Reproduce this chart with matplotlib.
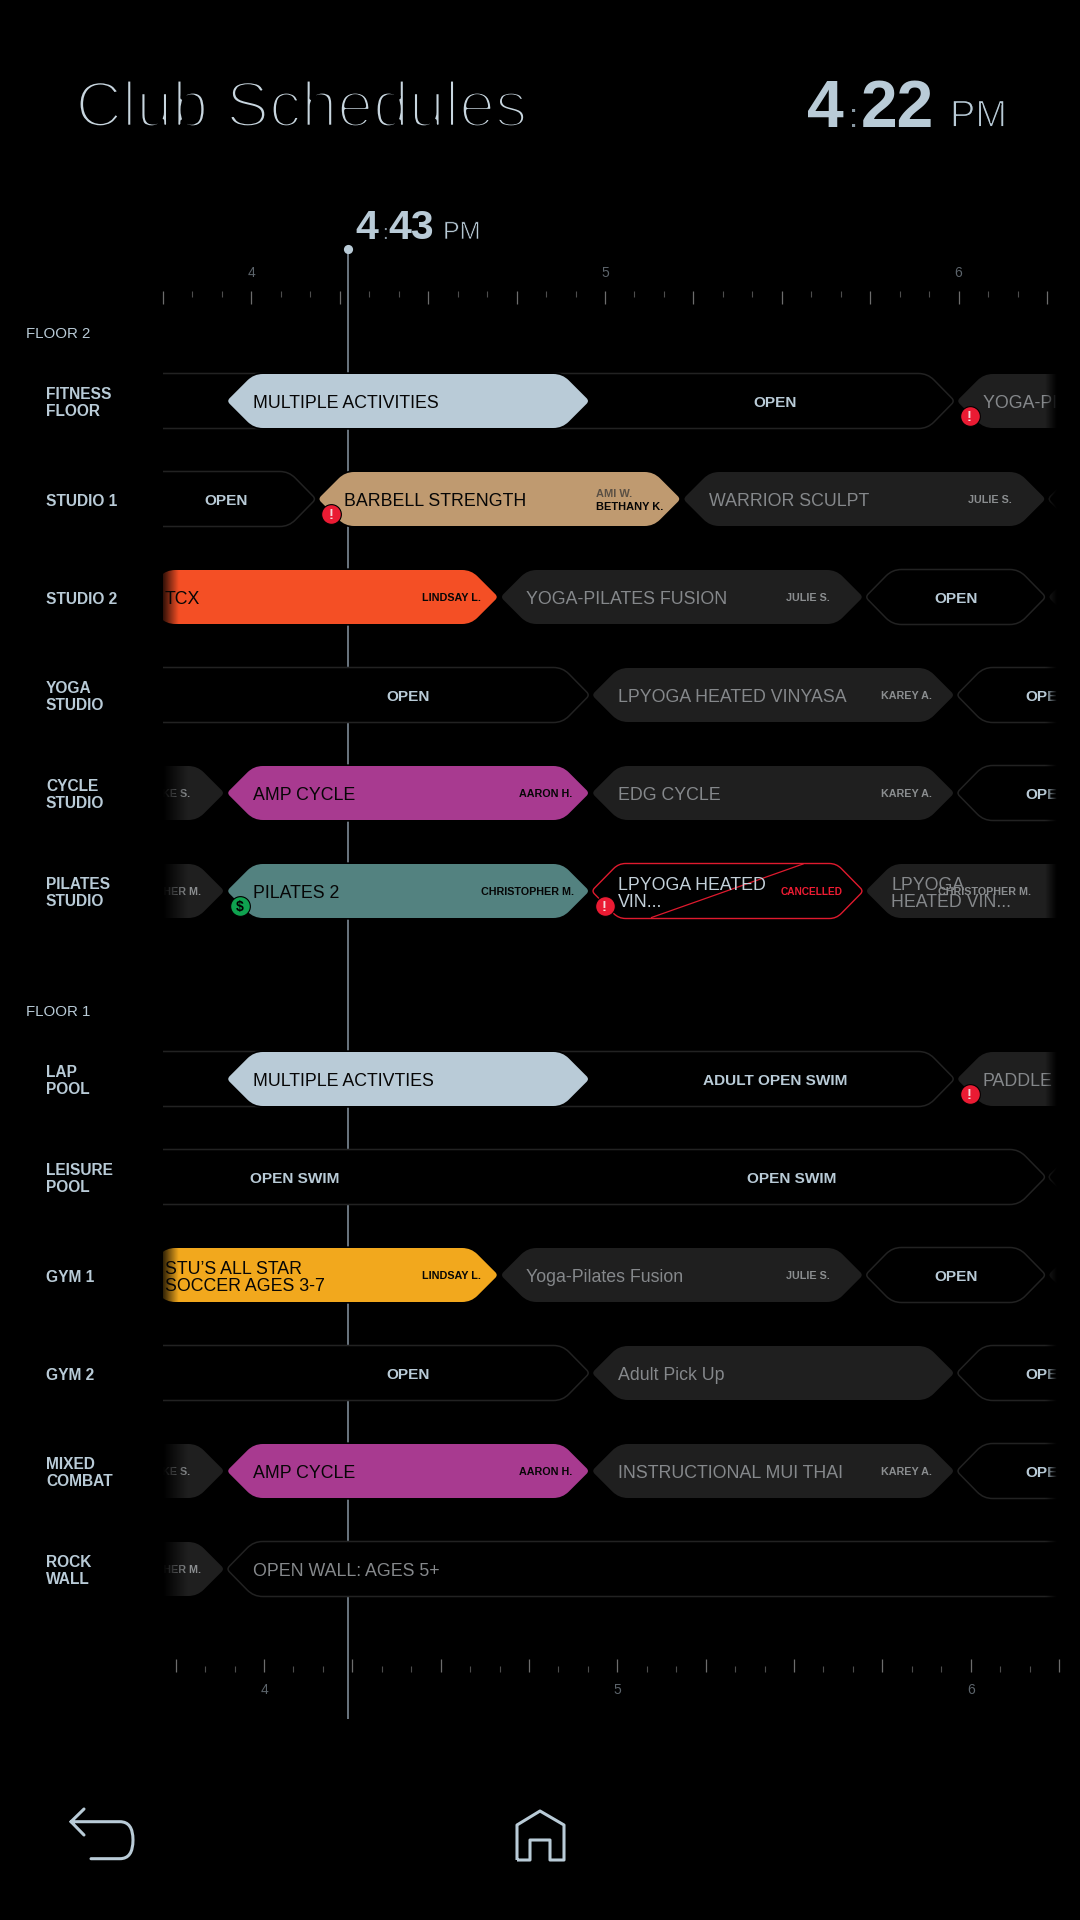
import numpy as np
import matplotlib
matplotlib.use("Agg")
import matplotlib.pyplot as plt
from matplotlib.path import Path
from matplotlib.patches import PathPatch
from matplotlib import patheffects as pe

# ---------- data ----------
ROW_LABELS = ["FITNESS\nFLOOR", "STUDIO 1", "STUDIO 2", "YOGA\nSTUDIO", "CYCLE\nSTUDIO", "PILATES\nSTUDIO",
              "LAP\nPOOL", "LEISURE\nPOOL", "GYM 1", "GYM 2", "MIXED\nCOMBAT", "ROCK\nWALL"]
FLOOR_LABELS = ["FLOOR 2", "FLOOR 1"]
MAJOR_HOURS = [3.75, 4, 4.25, 4.5, 4.75, 5, 5.25, 5.5, 5.75, 6, 6.25]
HOUR_TICK_LABELS = ["", "4", "", "", "", "5", "", "", "", "6", ""]
NOW_HOUR = 4.335
TITLE = "Club Schedules"

BLOCK_ROW = [0, 0, 0,
             1, 1, 1, 1,
             2, 2, 2, 2,
             3, 3, 3,
             4, 4, 4, 4,
             5, 5, 5, 5,
             6, 6, 6,
             7, 7,
             8, 8, 8, 8,
             9, 9, 9,
             10, 10, 10, 10,
             11, 11]
BLOCK_START = [3.0, 4.0, 6.0,
               3.0, 4.25, 5.25, 6.25,
               3.76, 4.75, 5.75, 6.25,
               3.0, 5.0, 6.0,
               3.0, 4.0, 5.0, 6.0,
               3.0, 4.0, 5.0, 5.75,
               3.0, 4.0, 6.0,
               3.0, 6.25,
               3.76, 4.75, 5.75, 6.25,
               3.0, 5.0, 6.0,
               3.0, 4.0, 5.0, 6.0,
               3.0, 4.0]
BLOCK_END = [6.0, 5.0, 7.0,
             4.25, 5.25, 6.25, 7.25,
             4.75, 5.75, 6.25, 7.25,
             5.0, 6.0, 6.5,
             4.0, 5.0, 6.0, 6.5,
             4.0, 5.0, 5.75, 6.75,
             6.0, 5.0, 7.0,
             6.25, 7.25,
             4.75, 5.75, 6.25, 7.25,
             5.0, 6.0, 6.5,
             4.0, 5.0, 6.0, 6.5,
             4.0, 7.5]
BLOCK_KIND = ["open", "blue", "grey",
              "open", "tan", "grey", "open",
              "orange", "grey", "open", "grey",
              "open", "grey", "open",
              "grey", "purple", "grey", "open",
              "grey", "teal", "cancel", "grey",
              "open", "blue", "grey",
              "open", "open",
              "yellow", "grey", "open", "grey",
              "open", "grey", "open",
              "grey", "purple", "grey", "open",
              "grey", "open"]
BLOCK_TITLE = ["", "MULTIPLE ACTIVITIES", "YOGA-PILATES FUSION",
               "", "BARBELL STRENGTH", "WARRIOR SCULPT", "",
               "TCX", "YOGA-PILATES FUSION", "", "",
               "", "LPYOGA HEATED VINYASA", "",
               "", "AMP CYCLE", "EDG CYCLE", "",
               "", "PILATES 2", "LPYOGA HEATED\nVIN...", "LPYOGA\nHEATED VIN...",
               "", "MULTIPLE ACTIVTIES", "PADDLE",
               "", "",
               "STU\u2019S ALL STAR\nSOCCER AGES 3-7", "Yoga-Pilates Fusion", "", "",
               "", "Adult Pick Up", "",
               "", "AMP CYCLE", "INSTRUCTIONAL MUI THAI", "",
               "", "OPEN WALL: AGES 5+"]
BLOCK_PERSON = ["", "", "",
                "", "", "JULIE S.", "",
                "LINDSAY L.", "JULIE S.", "", "",
                "", "KAREY A.", "",
                "MIKE S.", "AARON H.", "KAREY A.", "",
                "CHRISTOPHER M.", "CHRISTOPHER M.", "CANCELLED", "CHRISTOPHER M.",
                "", "", "",
                "", "",
                "LINDSAY L.", "JULIE S.", "", "",
                "", "", "",
                "MIKE S.", "AARON H.", "KAREY A.", "",
                "CHRISTOPHER M.", ""]
OPEN_LABEL_ROW = [0, 1, 2, 3, 3, 4, 6, 7, 7, 8, 9, 9, 10]
OPEN_LABEL_HOUR = [5.505, 4.0, 6.0, 4.5, 6.25, 6.25, 5.505, 4.19, 5.55, 6.0, 4.5, 6.25, 6.25]
OPEN_LABEL_TEXT = ["OPEN", "OPEN", "OPEN", "OPEN", "OPEN", "OPEN", "ADULT OPEN SWIM", "OPEN SWIM",
                   "OPEN SWIM", "OPEN", "OPEN", "OPEN", "OPEN"]
ALERT_ROW = [0, 1, 5, 6]
ALERT_HOUR = [6.0, 4.25, 5.0, 6.0]
MONEY_ROW = [5]
MONEY_HOUR = [4.0]
CANCEL_ROW = 5
CANCEL_STRIKE_HOURS = [5.167, 5.582]

# ---------- style / layout ----------
FONT = "Liberation Sans"
plt.rcParams["font.family"] = FONT
INK = "#b9cbd7"
FILLS = {"blue": "#b9cbd7", "tan": "#bf9a70", "orange": "#f44f25", "purple": "#a83a90",
         "teal": "#538280", "yellow": "#f2a81d", "grey": "#1f1f1f"}
ROW_Y = [401, 499, 597, 695, 793, 891, 1079, 1177, 1275, 1373, 1471, 1569]
FLOOR_Y = [333, 1011]
PERSON_PAD = {"JULIE S.": 35, "KAREY A.": 24, "LINDSAY L.": 18, "AARON H.": 18, "MIKE S.": 35,
              "CANCELLED": 22}
H = 54
TIP = 27
W, HT = 1080, 1920
PX4, PPH = 225.6, 365.0
CLIP_L, CLIP_R = 163, 1057


def px2h(x):
    return 4 + (x - PX4) / PPH


def h2px(h):
    return PX4 + (h - 4) * PPH


fig = plt.figure(figsize=(W / 100, HT / 100), dpi=100, facecolor="black")

# timeline axes: x in hours, y in screen rows
ax = fig.add_axes([CLIP_L / W, 0, (CLIP_R - CLIP_L) / W, 1], zorder=2)
ax.set_xlim(px2h(CLIP_L), px2h(CLIP_R))
ax.set_ylim(HT, 0)
ax.axis("off")

# chrome axes in screen pixels
ui = fig.add_axes([0, 0, 1, 1], zorder=3)
ui.set_xlim(0, W)
ui.set_ylim(HT, 0)
ui.axis("off")
ui.patch.set_alpha(0)


def hexagon(x0, x1, yc, h=H, tip=TIP, r_tip=4.0, r_sh=9.0):
    pts = [(x0, yc), (x0 + tip, yc - h / 2), (x1 - tip, yc - h / 2),
           (x1, yc), (x1 - tip, yc + h / 2), (x0 + tip, yc + h / 2)]
    rad = [r_tip, r_sh, r_sh, r_tip, r_sh, r_sh]
    verts, codes = [], []
    n = len(pts)
    for i in range(n):
        v = np.array(pts[i], float)
        p = np.array(pts[i - 1], float)
        q = np.array(pts[(i + 1) % n], float)
        a = v + (p - v) / np.linalg.norm(p - v) * rad[i]
        b = v + (q - v) / np.linalg.norm(q - v) * rad[i]
        verts += [tuple(a), tuple(v), tuple(b)]
        codes += [Path.MOVETO if i == 0 else Path.LINETO, Path.CURVE3, Path.CURVE3]
    verts.append(verts[0])
    codes.append(Path.CLOSEPOLY)
    vv = np.array(verts)
    vv[:, 0] = px2h(vv[:, 0])
    return Path(vv, codes)


def ctext(a, x, yc, s, px, color, weight="normal", ha="left", z=20, clip=True):
    """text whose capitals are centred on yc"""
    return a.text(x, yc + 0.358 * px, s, fontsize=px * 0.72, color=color, fontweight=weight,
                  ha=ha, va="baseline", zorder=z, clip_on=clip, family=FONT)


def fade(x0, x1, y0, y1, a0, a1, z):
    arr = np.zeros((1, 32, 4))
    arr[..., 3] = np.linspace(a0, a1, 32)
    ax.imshow(arr, extent=[px2h(x0), px2h(x1), y1, y0], aspect="auto", zorder=z, interpolation="bilinear")


# current-time line
ax.plot([NOW_HOUR, NOW_HOUR], [249, 1719], color="#67727c", lw=1.45, zorder=1, solid_capstyle="butt")
ax.plot([NOW_HOUR], [249], "o", ms=6.6, color=INK, mew=0, zorder=1.5, clip_on=False)

# blocks
order = sorted(range(len(BLOCK_ROW)), key=lambda i: BLOCK_KIND[i] != "open")
for z, i in enumerate(order):
    yc = ROW_Y[BLOCK_ROW[i]]
    kind = BLOCK_KIND[i]
    x0, x1 = h2px(BLOCK_START[i]), h2px(BLOCK_END[i])
    zb = 2 + z * 0.1
    if kind == "open":
        path = hexagon(x0 + 1, x1 - 1, yc, h=H + 1)
        ax.add_patch(PathPatch(path, fc="black", ec="#222222", lw=1.1, zorder=zb))
    elif kind == "cancel":
        path = hexagon(x0 + 1, x1 - 1, yc, h=H + 1, r_sh=7)
        ax.add_patch(PathPatch(path, fc="black", ec="black", lw=2.6, zorder=zb))
        ax.add_patch(PathPatch(path, fc="black", ec="#df1a2e", lw=1.0, zorder=zb + 0.01))
    else:
        path = hexagon(x0 + 1.2, x1 - 1.2, yc)
        ax.add_patch(PathPatch(path, fc="black", ec="black", lw=2.4, zorder=zb))
        ax.add_patch(PathPatch(path, fc=FILLS[kind], ec="none", zorder=zb + 0.01))

    # left-edge fade of blocks running in from the left
    if BLOCK_START[i] < 4 and kind not in ("open",) and x0 < CLIP_L + 80:
        if kind == "grey":
            fade(CLIP_L, CLIP_L + 25, yc - H / 2 - 2, yc + H / 2 + 2, 1.0, 0.0, 30)
        else:
            fade(CLIP_L, CLIP_L + 16, yc - H / 2 - 2, yc + H / 2 + 2, 0.8, 0.0, zb + 0.02)

    # texts
    if kind == "grey" or kind == "open":
        tcol, pcol = "#85888b", "#8b8e90"
    elif kind == "cancel":
        tcol, pcol = "#c3d0d9", "#ee1c33"
    else:
        tcol, pcol = "#060606", "#060606"
    title = BLOCK_TITLE[i]
    if title:
        tx = max(x0 + 27, 165)
        lines = title.split("\n")
        off = [0] if len(lines) == 1 else [-8.5, 8.5]
        for ln, d in zip(lines, off):
            ctext(ax, px2h(tx), yc + d + 1, ln, 17.8, tcol)
    person = BLOCK_PERSON[i]
    if person:
        pad = PERSON_PAD.get(person, 17)
        if person == "CHRISTOPHER M.":
            pad = 25 if kind == "grey" else 17
            if BLOCK_START[i] > 5:
                pad = 198
        size = 10.1 if person == "CANCELLED" else 10.8
        ctext(ax, px2h(x1 - pad), yc, person, size, pcol, weight="bold", ha="right")

# second (split) credit on the tan block
tan_i = BLOCK_KIND.index("tan")
tan_y = ROW_Y[BLOCK_ROW[tan_i]]
ctext(ax, px2h(596), tan_y - 6, "AMI W.", 11, "#5b5044", weight="bold")
ctext(ax, px2h(596), tan_y + 7, "BETHANY K.", 11, "#060606", weight="bold")

# strike through cancelled class
ax.plot(CANCEL_STRIKE_HOURS, [ROW_Y[CANCEL_ROW] + 26.5, ROW_Y[CANCEL_ROW] - 27], color="#df1a2e", lw=0.9, zorder=19)

# labels inside open blocks
for r, h, s in zip(OPEN_LABEL_ROW, OPEN_LABEL_HOUR, OPEN_LABEL_TEXT):
    ctext(ax, h, ROW_Y[r], s, 15.4, INK, weight="bold", ha="center")

# right-hand fade across all rows
fade(CLIP_R - 12, CLIP_R, 360, 1610, 0.0, 1.0, 40)

# status badges
for r, h in zip(ALERT_ROW, ALERT_HOUR):
    hx = px2h(h2px(h) + 14)
    y = ROW_Y[r] + 15
    ax.plot([hx], [y], "o", ms=14.2, color="#ea1b33", mec="black", mew=0.8, zorder=50)
    ctext(ax, hx, y, "!", 15, "#f4d9dc", weight="bold", ha="center", z=51)
for r, h in zip(MONEY_ROW, MONEY_HOUR):
    hx = px2h(h2px(h) + 14)
    y = ROW_Y[r] + 15
    ax.plot([hx], [y], "o", ms=14.2, color="#0fa24f", mec="black", mew=0.8, zorder=50)
    ctext(ax, hx, y, "$", 14, "black", weight="bold", ha="center", z=51)

# hour rulers
MINOR = [m / 12 for m in range(45, 76) if m % 3 != 0]


def ruler(top_px, bot_px, left_px, right_px, hour4_px, top):
    r = fig.add_axes([left_px / W, 1 - bot_px / HT, (right_px - left_px) / W, (bot_px - top_px) / HT], zorder=1)
    r.set_xlim(4 + (left_px - hour4_px) / PPH, 4 + (right_px - hour4_px) / PPH)
    r.set_yticks([])
    r.patch.set_alpha(0)
    for s in r.spines.values():
        s.set_visible(False)
    r.set_xticks(MAJOR_HOURS)
    r.set_xticklabels(HOUR_TICK_LABELS)
    r.set_xticks(MINOR, minor=True)
    if top:
        r.xaxis.tick_top()
    r.tick_params(which="major", direction="in", length=9.4, width=0.9, color="#6d6d6d", labelcolor="#5c646b",
                  labelsize=10, pad=8)
    r.tick_params(which="minor", direction="in", length=4.4, width=0.8, color="#4d4d4d")
    return r


ruler(291, 305, 163, 1052, PX4, True)
ruler(1659, 1672, 174, 1059, 267, False)

# row and floor labels
for lab, y in zip(ROW_LABELS, ROW_Y):
    lines = lab.split("\n")
    off = [1] if len(lines) == 1 else [-8, 9]
    for ln, d in zip(lines, off):
        ctext(ui, 46, y + d, ln, 15.5, INK, weight="bold", clip=False)
for lab, y in zip(FLOOR_LABELS, FLOOR_Y):
    ctext(ui, 26, y, lab, 15, INK, clip=False)


# header
def thin(t, w):
    t.set_path_effects([pe.Stroke(linewidth=w, foreground="black")])
    return t


thin(ui.text(75.5, 126.5, TITLE, fontsize=64.5 * 0.72, color="#c8d6df", ha="left", va="baseline"), 2.6)


def clock(x, base, hour, mins, pm_x, colon_x, min_x, big, small, w):
    ui.text(x, base, hour, fontsize=big * 0.72, color=INK, fontweight="bold", va="baseline")
    ui.text(colon_x, base, ":", fontsize=big * 0.5 * 0.72, color="#8796a1", va="baseline", ha="center")
    ui.text(min_x, base, mins, fontsize=big * 0.72, color=INK, fontweight="bold", va="baseline")
    thin(ui.text(pm_x, base, "PM", fontsize=small * 0.72, color=INK, va="baseline"), w)


clock(807, 126.7, "4", "22", 950, 854, 861, 66, 38, 0.9)
clock(355, 239, "4", "43", 443, 385, 388.5, 41, 25, 0.45)

# footer icons
ICON = "#b9cbd7"
back = Path([(84, 1809), (71, 1821.7), (84, 1835), (71, 1821.7), (120, 1821.7), (133, 1821.7), (133, 1840),
             (133, 1858.7), (120, 1858.7), (91, 1858.7)],
            [Path.MOVETO, Path.LINETO, Path.LINETO, Path.MOVETO, Path.LINETO, Path.CURVE3, Path.CURVE3,
             Path.CURVE3, Path.CURVE3, Path.LINETO])
ui.add_patch(PathPatch(back, fc="none", ec=ICON, lw=2.2, capstyle="round", joinstyle="round"))
home = Path([(517, 1860), (517, 1825), (540, 1811), (564, 1825), (564, 1860), (550, 1860), (550, 1840),
             (530, 1840), (530, 1860), (517, 1860)],
            [Path.MOVETO] + [Path.LINETO] * 9)
ui.add_patch(PathPatch(home, fc="none", ec=ICON, lw=2.2, joinstyle="round"))

fig.savefig("out.png", dpi=100, facecolor="black")
